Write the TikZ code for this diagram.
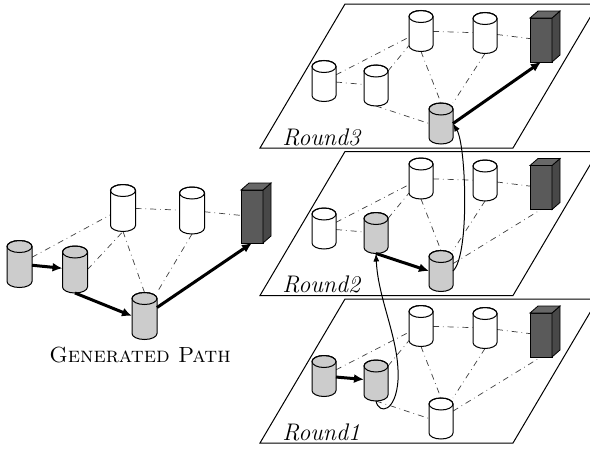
\documentclass[tikz,border=0pt]{standalone}
\usetikzlibrary{calc,arrows.meta}
\pgfdeclarelayer{planes}
\pgfdeclarelayer{back}
\pgfsetlayers{planes,back,main}
\definecolor{cylgray}{HTML}{CCCCCC}
\definecolor{srvfront}{HTML}{5A5A5A}
\definecolor{srvside}{HTML}{484848}
\definecolor{srvtop}{HTML}{686868}
\tikzset{
  cylline/.style={draw=black, line width=0.5pt},
  srvline/.style={draw=black, line width=0.4pt},
  link/.style={draw=black!75, line width=0.35pt, dash dot},
  patharrow/.style={line width=1.5pt, -{Latex[length=5pt,width=4.5pt]}},
  roundarrow/.style={line width=0.5pt, -{Latex[length=4pt,width=3pt]}},
  plane/.style={draw=black, line width=0.5pt, fill=white},
  roundlabel/.style={anchor=base west, inner sep=0pt, font=\fontsize{12}{14}\selectfont\itshape}
}
% cylinder: name, position, fill, width, height
\newcommand\mkcyl[5]{%
  \node[inner sep=0pt, outer sep=0pt, minimum width=#4, minimum height=#5] (#1) at (#2) {};
  \path[cylline, fill=#3] ($(#1.north west)+(0,-3pt)$) -- ($(#1.south west)+(0,3pt)$)
     arc[start angle=180, end angle=360, x radius=#4/2, y radius=3pt]
     -- ($(#1.north east)+(0,-3pt)$)
     arc[start angle=0, end angle=180, x radius=#4/2, y radius=3pt] -- cycle;
  \draw[cylline] ($(#1.north)+(0,-3pt)$) ellipse[x radius=#4/2, y radius=3pt];
}
% server box: name, position, height
\newcommand\mksrv[3]{%
  \node[inner sep=0pt, outer sep=0pt, minimum width=11pt, minimum height=#3] (#1) at (#2) {};
  \filldraw[srvline, fill=srvfront] (#1.south west) rectangle (#1.north east);
  \filldraw[srvline, fill=srvside] (#1.south east) -- ++(4pt,3.5pt)
     -- ($(#1.north east)+(4pt,3.5pt)$) -- (#1.north east) -- cycle;
  \filldraw[srvline, fill=srvtop] (#1.north west) -- ++(4pt,3.5pt)
     -- ($(#1.north east)+(4pt,3.5pt)$) -- (#1.north east) -- cycle;
}
% one round: prefix, fill 1, fill 2, fill 5, label
\newcommand\mkround[5]{%
  \begin{pgfonlayer}{planes}
    \path[plane] (260,148) -- (513,148) -- (598,4) -- (345,4) -- cycle;
  \end{pgfonlayer}
  \mkcyl{#1-1}{324,81}{#2}{12pt}{20.5pt}
  \mkcyl{#1-2}{376,85.5}{#3}{12pt}{20.5pt}
  \mkcyl{#1-3}{421,31}{white}{12pt}{20.5pt}
  \mkcyl{#1-4}{485,33}{white}{12pt}{20.5pt}
  \mkcyl{#1-5}{441,123.5}{#4}{12pt}{20.5pt}
  \mksrv{#1-6}{541,40}{22pt}
  \node[roundlabel] (#1-lab) at (282,145) {#5};
}
\begin{document}
\begin{tikzpicture}[x=0.5pt, y=-0.5pt]
\path[use as bounding box] (0,0) rectangle (590,450);
\clip (0,0) rectangle (590,450);

% ---- generated path (left) ----
\mkcyl{A}{19.5,264}{cylgray}{12.5pt}{23.5pt}
\mkcyl{B}{75,269.5}{cylgray}{12.5pt}{23.5pt}
\mkcyl{C}{144.5,316}{cylgray}{12.5pt}{23.5pt}
\mkcyl{D}{123,208}{white}{12.5pt}{23.5pt}
\mkcyl{E}{192,210.5}{white}{12.5pt}{23.5pt}
\mksrv{F}{252,216.5}{26.5pt}
\node[font=\fontsize{10.95}{13}\selectfont] (gp) at (140,355) {\textsc{Generated Path}};

% ---- rounds ----
\begin{scope}
  \mkround{a}{white}{white}{cylgray}{Round3}
\end{scope}
\begin{scope}[shift={(0,147.5)}]
  \mkround{b}{white}{cylgray}{cylgray}{Round2}
\end{scope}
\begin{scope}[shift={(0,295)}]
  \mkround{c}{cylgray}{cylgray}{white}{Round1}
\end{scope}

% ---- dash-dot links ----
\begin{pgfonlayer}{back}
  \path[link] (A) -- (D)  (B.east) -- (D.south)  (D) -- (E)
              (D.south) -- (C.north)  (E.south) -- (C.north east)  (E) -- (F);
  % Round3
  \path[link] (a-1) -- (a-3)  (a-1) -- (a-2)  (a-2) -- (a-3)  (a-2.south) -- (a-5.west)
              (a-3.south) -- (a-5.north)  (a-3) -- (a-4)  (a-4.south) -- (a-5.north east)  (a-4) -- (a-6);
  % Round2
  \path[link] (b-1) -- (b-3)  (b-1) -- (b-2)  (b-2) -- (b-3)
              (b-3.south) -- (b-5.north)  (b-3) -- (b-4)  (b-4.south) -- (b-5.north east)  (b-4) -- (b-6)
              (b-5) -- (b-6.south);
  % Round1
  \path[link] (c-1) -- (c-3)  (c-2) -- (c-3)  (c-2.south) -- (c-5.west)
              (c-3.south) -- (c-5.north)  (c-3) -- (c-4)  (c-4.south) -- (c-5.north east)  (c-4) -- (c-6)
              (c-5) -- (c-6.south);
\end{pgfonlayer}

% ---- thick path arrows ----
\draw[patharrow] (A) -- (B);
\draw[patharrow] (B.south) -- (C.west);
\draw[patharrow] (C) -- (F.south);
\draw[patharrow] (a-5.east) -- (a-6.south);
\draw[patharrow] (b-2.south) -- (b-5.west);
\draw[patharrow] (c-1) -- (c-2);

% ---- curved arrows between rounds ----
\coordinate (k1) at (398,380);
\draw[roundarrow] (c-2.south) .. controls (379,415) and (396,412) .. (k1)
                  .. controls (400,340) and (378,300) .. (b-2.south);
\draw[roundarrow] (b-5.east) .. controls (470,255) and (466,145) .. (a-5.east);
\end{tikzpicture}
\end{document}
